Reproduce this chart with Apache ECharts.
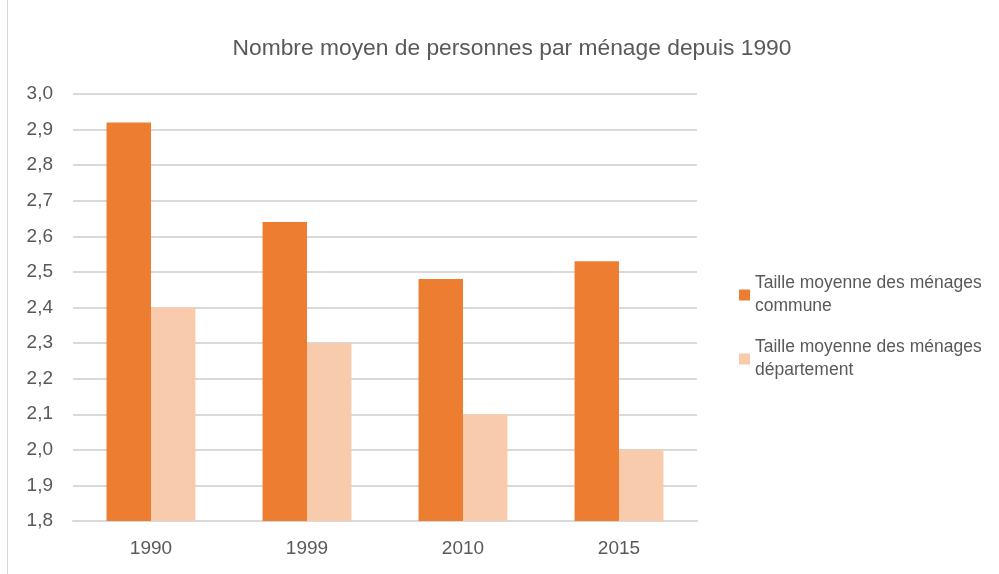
<!DOCTYPE html>
<html>
<head>
<meta charset="utf-8">
<script src="https://cdn.jsdelivr.net/npm/echarts@6/dist/echarts.min.js"></script>
<style>
  html, body { margin: 0; padding: 0; background: #fff; }
  #chart { width: 999px; height: 574px; }
  .frame { position: absolute; left: 7px; top: 0; width: 1100px; height: 1000px; border-left: 1px solid #d9d9d9; pointer-events: none; }
</style>
</head>
<body>
<div id="chart"></div>
<div class="frame"></div>
<script>
var years = ['1990', '1999', '2010', '2015'];
var commune = [2.92, 2.64, 2.48, 2.53];
var departement = [2.4, 2.3, 2.1, 2.0];
var seriesNames = ['Taille moyenne des ménages\ncommune', 'Taille moyenne des ménages\ndépartement'];

var chart = echarts.init(document.getElementById('chart'));
var txt = '#595959';
var font = '"Liberation Sans", Arial, sans-serif';
var option = {
  animation: false,
  textStyle: { fontFamily: font },
  title: {
    text: 'Nombre moyen de personnes par ménage depuis 1990',
    left: 507, top: 32, textAlign: 'center',
    textStyle: { fontSize: 22.8, fontWeight: 'normal', color: txt, fontFamily: font }
  },
  legend: {
    orient: 'vertical',
    left: 734, top: 267,
    itemWidth: 11, itemHeight: 11, itemGap: 18,
    icon: 'rect',
    textStyle: { fontSize: 17.5, color: txt, lineHeight: 23, fontFamily: font },
    data: seriesNames
  },
  grid: { left: 73, right: 302, top: 94, bottom: 53 },
  xAxis: {
    type: 'category',
    data: years,
    axisLine: { lineStyle: { color: '#d9d9d9', width: 2 } },
    axisTick: { show: false },
    axisLabel: { fontSize: 19, color: txt, margin: 18, fontFamily: font }
  },
  yAxis: {
    type: 'value',
    min: 1.8, max: 3.0, interval: 0.1,
    axisLine: { show: false },
    axisTick: { show: false },
    splitLine: { lineStyle: { color: '#d9d9d9', width: 2 } },
    axisLabel: {
      fontSize: 19, color: txt, margin: 20, fontFamily: font,
      formatter: function (v) { return v.toFixed(1).replace('.', ','); }
    }
  },
  series: [
    { name: seriesNames[0], type: 'bar', data: commune, barGap: 0, barCategoryGap: '43%', itemStyle: { color: '#ed7d31' } },
    { name: seriesNames[1], type: 'bar', data: departement, itemStyle: { color: '#f8cbad' } }
  ]
};
chart.setOption(option);
</script>
</body>
</html>
